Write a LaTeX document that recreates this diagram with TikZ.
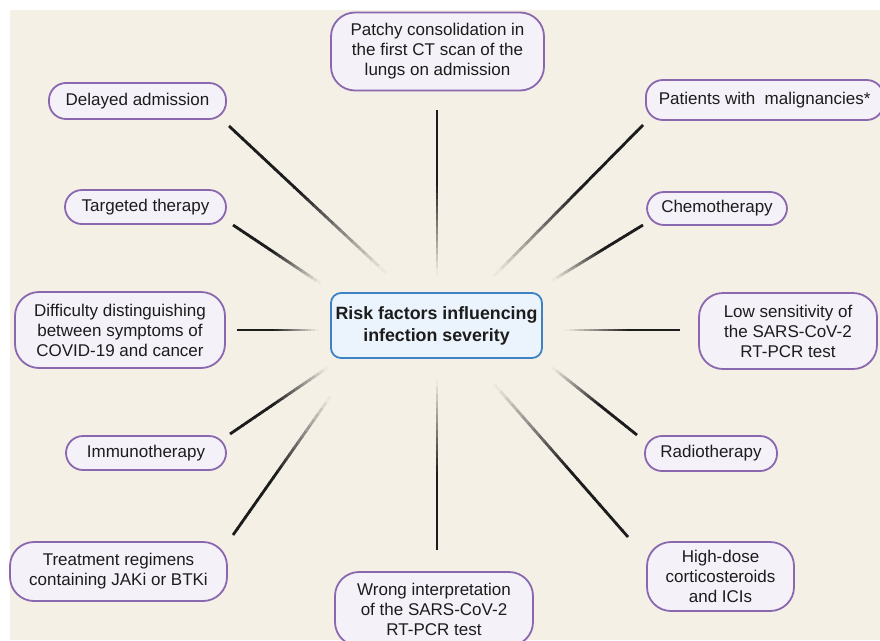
\documentclass[tikz,border=0pt]{standalone}
\usepackage{fontspec}
\setmainfont{Liberation Sans}
\usetikzlibrary{calc,positioning}

\definecolor{canvas}{HTML}{F4F0E6}
\definecolor{boxfill}{HTML}{F5F1F8}
\definecolor{boxline}{HTML}{8A68B0}
\definecolor{hubfill}{HTML}{EBF3FC}
\definecolor{hubline}{HTML}{3C82C4}
\definecolor{ink}{HTML}{1C1C1C}

% fading spoke: dark at the outer end, gone into the canvas at the inner end
\newcommand{\spoke}[2]{%
  \foreach \k in {0,...,23} {
    \pgfmathsetmacro{\shadeval}{min(100,100*(1-(\k+0.5)/24)/0.55)}
    \draw[spokeline, color=ink!\shadeval!canvas]
      ($(#1)!\k/24!(#2)$) -- ($(#1)!{(\k+1.15)/24}!(#2)$);
  }%
}

\begin{document}
\begin{tikzpicture}[x=1pt, y=-1pt, semithick,
    factor/.style={draw=boxline, line width=1.8pt, fill=boxfill, text=ink,
                   align=center, font=\fontsize{17}{20}\selectfont,
                   rounded corners=17pt, inner sep=0pt},
    tallfactor/.style={factor, rounded corners=24pt},
    hubbox/.style={draw=hubline, line width=1.8pt, fill=hubfill, text=ink,
                   align=center, font=\fontsize{17.8}{22}\selectfont\bfseries,
                   rounded corners=10pt, inner sep=0pt},
    spokeline/.style={line width=2.8pt, line cap=butt}]

    \useasboundingbox (0,0) rectangle (880,640);
    \fill[white] (0,0) rectangle (880,640);
    \fill[canvas] (10,10) rectangle (880,640);

    % hub
    \node[hubbox, minimum width=211pt, minimum height=65pt] (hub) at (436.5,325.5)
        {Risk factors influencing\\infection severity};

    % left column
    \node[factor, minimum width=177pt, minimum height=36pt] (delay)    at (137.5,101)   {Delayed admission};
    \node[factor, minimum width=161pt, minimum height=34pt] (targeted) at (145.5,207)   {Targeted therapy};
    \node[tallfactor, minimum width=210pt, minimum height=76pt] (distinguish) at (120,330)
        {Difficulty distinguishing\\between symptoms of\\COVID-19 and cancer};
    \node[factor, minimum width=160pt, minimum height=34pt] (immuno)   at (146,453)     {Immunotherapy};
    \node[tallfactor, minimum width=217pt, minimum height=59pt] (regimens) at (118.5,571.5)
        {Treatment regimens\\containing JAKi or BTKi};

    % middle column
    \node[tallfactor, minimum width=213pt, minimum height=78pt] (patchy) at (437.5,51.5)
        {Patchy consolidation in\\the first CT scan of the\\lungs on admission};
    \node[tallfactor, minimum width=198pt, minimum height=74pt] (wrongpcr) at (434,609)
        {Wrong interpretation\\of the SARS-CoV-2\\RT-PCR test};

    % right column
    \node[factor, anchor=west, minimum height=40pt, inner xsep=13pt] (malign) at (645,100)
        {Patients with\ \ malignancies*};
    \node[factor, minimum width=140pt, minimum height=33pt] (chemo)    at (717,208.5)   {Chemotherapy};
    \node[tallfactor, minimum width=178pt, minimum height=76pt] (lowpcr) at (788,331)
        {Low sensitivity of\\the SARS-CoV-2\\RT-PCR test};
    \node[factor, minimum width=132pt, minimum height=35pt] (radio)    at (711,453.5)   {Radiotherapy};
    \node[tallfactor, minimum width=147pt, minimum height=69pt] (highdose) at (720.5,576.5)
        {High-dose\\corticosteroids\\and ICIs};

    % spoke ends
    \coordinate (delay-o)       at (229,126);  \coordinate (delay-i)       at (385,272);
    \coordinate (targeted-o)    at (233,225);  \coordinate (targeted-i)    at (320,283);
    \coordinate (distinguish-o) at (237,330);  \coordinate (distinguish-i) at (318,330);
    \coordinate (immuno-o)      at (230,434);  \coordinate (immuno-i)      at (327,368);
    \coordinate (regimens-o)    at (233,535);  \coordinate (regimens-i)    at (330,397);
    \coordinate (patchy-o)      at (437,110);  \coordinate (patchy-i)      at (437,275);
    \coordinate (wrongpcr-o)    at (437,550);  \coordinate (wrongpcr-i)    at (437,380);
    \coordinate (malign-o)      at (643,125);  \coordinate (malign-i)      at (495,275);
    \coordinate (chemo-o)       at (643,225);  \coordinate (chemo-i)       at (553,280);
    \coordinate (lowpcr-o)      at (680,330);  \coordinate (lowpcr-i)      at (565,330);
    \coordinate (radio-o)       at (637,435);  \coordinate (radio-i)       at (553,368);
    \coordinate (highdose-o)    at (628,537);  \coordinate (highdose-i)    at (495,385);

    \foreach \f in {delay,targeted,distinguish,immuno,regimens,patchy,wrongpcr,
                    malign,chemo,lowpcr,radio,highdose}
        {\spoke{\f-o}{\f-i}}

\end{tikzpicture}
\end{document}
